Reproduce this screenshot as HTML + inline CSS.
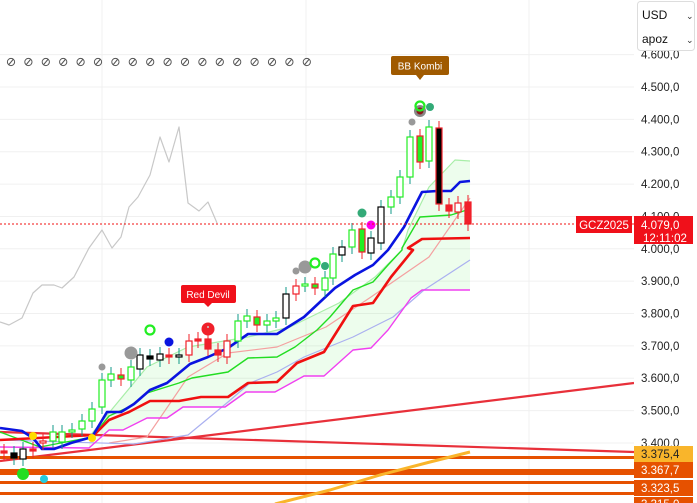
<!DOCTYPE html><html><head><meta charset="utf-8"><style>
html,body{margin:0;padding:0;background:#fff;width:697px;height:503px;overflow:hidden;font-family:"Liberation Sans",sans-serif}
</style></head><body>
<svg id="s" width="697" height="503" xmlns="http://www.w3.org/2000/svg" style="position:absolute;left:0;top:0"></svg>
<script>
var s='';
function P(p){return 87+(4500-p)*0.3236;}
// grid
for(var p=3400;p<=4600;p+=100){var y=P(p);s+='<line x1="0" x2="634" y1="'+y+'" y2="'+y+'" stroke="#f0f0f0" stroke-width="1"/>';}
[102,306,529].forEach(function(x){s+='<line x1="'+x+'" x2="'+x+'" y1="0" y2="503" stroke="#f0f0f0"/>';});
function pl(pts,col,w,op){s+='<polyline fill="none" stroke="'+col+'" stroke-width="'+w+'" '+(op?'opacity="'+op+'"':'')+' stroke-linejoin="round" points="'+pts.map(function(a){return a.join(',')}).join(' ')+'"/>';}
var lg=[[89,437],[147,367],[188,347],[248,337],[290,327],[339,303],[375,277],[402,250],[408,230],[429,187],[455,160],[470,161]];
var mg=[[0,447],[89,448],[109,430],[123,430],[147,418],[167,418],[183,407],[225,407],[246,392],[275,392],[304,376],[324,376],[353,350],[371,348],[388,330],[411,298],[422,290],[470,290]];
var fill=lg.concat(mg.filter(function(a){return a[0]>=89}).reverse());
s+='<polygon fill="#00e000" opacity="0.07" points="'+fill.map(function(a){return a.join(',')}).join(' ')+'"/>';
// gray line
pl([[0,322],[9,325],[22,318],[33,293],[42,285],[54,285],[62,288],[74,277],[89,248],[102,230],[112,248],[121,237],[129,207],[138,197],[150,175],[160,137],[169,162],[179,127],[188,203],[199,211],[208,202],[217,223]],'#c8c8c8',1.2);
// horizontal/trend lines
pl([[0,461],[634,383]],'#e8303a',2.2);
pl([[0,432],[634,452]],'#e8303a',2.2);
s+='<rect x="0" y="456" width="634" height="3" fill="#e65100"/>';
s+='<rect x="0" y="469" width="634" height="6" fill="#e65100"/>';
s+='<rect x="0" y="481" width="634" height="3" fill="#e65100"/>';
s+='<rect x="0" y="492" width="634" height="3" fill="#e65100"/>';
pl([[275,504],[330,490],[380,475],[430,462],[470,452]],'#f9b52b',3);
// MAs
pl([[109,443],[147,437],[188,377],[228,353],[277,347],[326,327],[371,297],[429,257],[470,198]],'#f4a0a0',1.2);
pl([[0,440],[134,444],[188,435],[228,402],[250,383],[277,372],[304,357],[353,337],[393,317],[424,290],[470,260]],'#aab0f0',1.2);
pl(lg,'#a8eea8',1.2);
pl(mg,'#f040f0',1.4);
pl([[0,432],[40,447],[92,437],[109,416],[129,407],[147,393],[179,383],[192,378],[228,372],[248,358],[277,357],[295,347],[317,330],[330,317],[353,290],[373,282],[388,265],[402,250],[402,248],[420,217],[451,215],[470,209]],'#22dd22',1.4);
pl([[0,440],[94,435],[109,420],[129,412],[150,401],[179,401],[201,397],[228,397],[248,383],[277,382],[297,363],[324,352],[353,306],[373,303],[391,277],[413,250],[408,248],[422,239],[470,238]],'#f01010',2.6);
pl([[0,428],[22,431],[33,438],[42,449],[54,449],[71,443],[92,437],[107,412],[121,412],[134,404],[150,390],[167,383],[190,364],[208,357],[228,348],[248,334],[277,334],[304,317],[335,288],[355,275],[373,265],[388,250],[404,227],[422,192],[437,191],[451,191],[460,182],[470,181]],'#0a14e0',2.6);
// candles: x, top, bot, type (g=green hollow, G=green filled, r=red hollow, R=red filled, k=black hollow, K=black filled)
var c=[[4,451,453,'R'],[14,453,458,'K'],[23,449,459,'k'],[33,449,451,'R'],[43,441,443,'r'],[53,432,441,'g'],[62,432,442,'g'],[72,430,431,'g'],[82,421,429,'g'],[92,409,421,'g'],[102,380,407,'g'],[111,374,380,'g'],[121,375,379,'RG'],[131,367,380,'g'],[140,355,369,'k'],[150,356,359,'K'],[160,354,360,'k'],[169,355,357,'R'],[179,355,357,'k'],[189,341,355,'r'],[198,339,341,'R'],[208,339,349,'R'],[218,350,355,'R'],[227,341,357,'r'],[238,321,341,'g'],[247,316,321,'g'],[257,317,325,'RG'],[267,321,325,'g'],[276,318,321,'g'],[286,294,318,'k'],[296,286,294,'r'],[305,284,285,'g'],[315,284,288,'RG'],[325,278,290,'g'],[333,254,278,'g'],[342,247,255,'k'],[352,230,247,'g'],[362,229,252,'RG'],[371,238,253,'k'],[381,207,243,'k'],[391,197,207,'g'],[400,177,197,'g'],[410,137,177,'g'],[420,136,162,'RG'],[429,127,161,'g'],[439,128,204,'RK'],[449,205,211,'R'],[458,203,212,'r'],[468,202,224,'R']];
c.forEach(function(a){var x=a[0],t=a[1],b=a[2],k=a[3];var st,f;
 if(k=='g'){st='#22ee22';f='#fff'}else if(k=='G'){st='#22ee22';f='#22ee22'}else if(k=='r'){st='#f0202a';f='#fff'}else if(k=='R'){st='#f0202a';f='#f0202a'}else if(k=='k'){st='#000';f='#fff'}else if(k=='K'){st='#000';f='#000'}else if(k=='RG'){st='#f0202a';f='#22ee22'}else{st='#f0202a';f='#000'}
 var wc=(k=='g'||k=='G')?'#119988':(k=='k'||k=='K')?'#119988':'#f0202a';
 s+='<line x1="'+x+'" x2="'+x+'" y1="'+(t-7)+'" y2="'+(b+7)+'" stroke="'+wc+'" stroke-width="1"/>';
 var h=Math.max(b-t,2);s+='<rect x="'+(x-3)+'" y="'+t+'" width="6" height="'+h+'" fill="'+f+'" stroke="'+st+'" stroke-width="1.2"/>';});
// markers
function ci(x,y,r,f,st){s+='<circle cx="'+x+'" cy="'+y+'" r="'+r+'" fill="'+(f||'none')+'" '+(st?'stroke="'+st+'" stroke-width="2.2"':'')+'/>';}
ci(102,367,3.5,'#999');ci(131,353,6.5,'#999');ci(150,330,4.5,'#fff','#22ee22');ci(169,342,4.5,'#0a14e0');ci(208,329,6.5,'#f0202a');ci(208,327,1,'#ccc');
ci(296,271,3.5,'#999');ci(305,267,6.5,'#999');ci(315,263,4.5,'#fff','#22ee22');ci(325,266,4,'#33aa77');
ci(362,213,4.5,'#33aa77');ci(371,225,4.5,'#ff00ee');ci(412,122,3.5,'#999');ci(420,111,6,'#888');ci(420,111,3.5,'#8b1a1a');ci(420,106,4.5,'none','#22ee22');ci(430,107,4,'#33aa77');
ci(33,436,4,'#ffdd00');ci(92,438,4,'#ffdd00');ci(23,474,6,'#22dd22');ci(44,479,4,'#22ccdd');
// slashes row
for(var i=0;i<18;i++){var x=11+i*17.4;s+='<circle cx="'+x+'" cy="62" r="3.6" fill="none" stroke="#555" stroke-width="1"/><line x1="'+(x-2.5)+'" y1="65" x2="'+(x+2.5)+'" y2="59" stroke="#555"/>';}
// labels
s+='<rect x="391" y="56" width="58" height="19" rx="2" fill="#a05a00"/><path d="M416 75 L420 80 L424 75Z" fill="#a05a00"/><text x="420" y="69.5" fill="#fff" font-size="10" text-anchor="middle">BB Kombi</text>';
s+='<rect x="181" y="285" width="55" height="18" rx="2" fill="#f0101a"/><path d="M204 303 L208 307 L212 303Z" fill="#f0101a"/><text x="208" y="298" fill="#fff" font-size="10" text-anchor="middle">Red Devil</text>';
// dotted price line
s+='<line x1="0" x2="634" y1="224" y2="224" stroke="#f01010" stroke-dasharray="2,2"/>';
// axis
s+='<rect x="634" y="0" width="63" height="503" fill="#fff"/>';
for(var p=3400;p<=4600;p+=100){var y=P(p);s+='<text x="641" y="'+(y+4)+'" font-size="11.5" fill="#222">'+(Math.floor(p/1000))+'.'+String(p%1000).padStart(3,'0')+',0</text>';}
s+='<rect x="576" y="216" width="56" height="17" fill="#f0101a"/><text x="604" y="229" font-size="11.5" fill="#fff" text-anchor="middle">GCZ2025</text>';
s+='<rect x="634" y="216" width="59" height="28" fill="#f0101a"/><text x="641" y="229" font-size="11.5" fill="#fff">4.079,0</text><text x="643" y="242" font-size="11.5" fill="#fff">12:11:02</text>';
s+='<rect x="634" y="446" width="59" height="16" fill="#f9b52b"/><text x="641" y="458" font-size="11.5" fill="#222">3.375,4</text>';
s+='<rect x="634" y="462" width="59" height="16" fill="#e65100"/><text x="641" y="474" font-size="11.5" fill="#fff">3.367,7</text>';
s+='<rect x="634" y="480" width="59" height="16" fill="#e65100"/><text x="641" y="492" font-size="11.5" fill="#fff">3.323,5</text>';
s+='<rect x="634" y="497" width="59" height="16" fill="#e65100"/><text x="641" y="508" font-size="11.5" fill="#fff">3.315,0</text>';
s+='<rect x="637.5" y="1.5" width="57" height="49" rx="3" fill="#fff" stroke="#ddd"/><text x="642" y="19" font-size="12" fill="#111">USD</text><text x="642" y="43" font-size="12" fill="#111">apoz</text><text x="686" y="19" font-size="9" fill="#333">⌄</text><text x="686" y="43" font-size="9" fill="#333">⌄</text>';
document.getElementById('s').innerHTML=s;
</script>
</body></html>
